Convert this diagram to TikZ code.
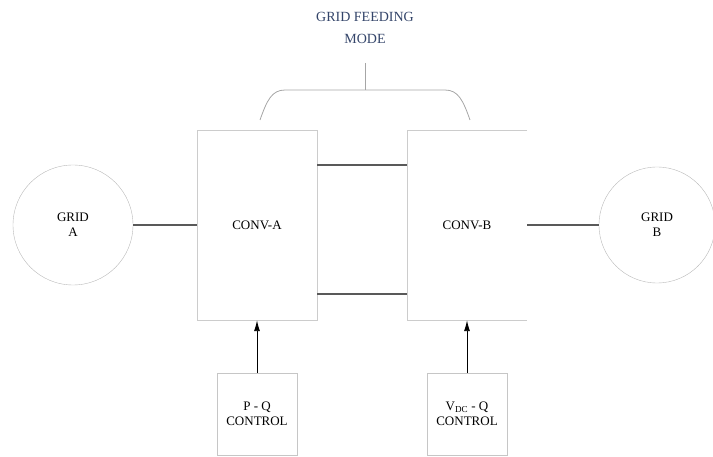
\documentclass[tikz,border=0pt]{standalone}
\usepackage{fontspec}
\setmainfont{Liberation Serif}
\usepackage{xcolor}
\usepackage{tikz}
\usetikzlibrary{calc,arrows.meta}
\definecolor{modeblue}{HTML}{34456A}

\begin{document}
\begin{tikzpicture}[x=1pt,y=-1pt,
    every node/.style={align=center,font=\fontsize{13}{15}\selectfont},
    conv/.style={minimum width=120pt,minimum height=190pt,inner sep=0pt},
    ctrl/.style={draw=gray!45,minimum width=80pt,minimum height=82pt,inner sep=0pt},
    grid/.style={circle,draw=gray!55,minimum size=120pt,inner sep=0pt},
    link/.style={draw=black!65,line width=1.4pt},
    feed/.style={-{Latex[length=11pt,width=6pt]},line width=0.9pt}]
  \useasboundingbox (0,0) rectangle (713,457);
  \node[text=modeblue,font=\fontsize{14}{22}\selectfont] (mode) at (365,28) {GRID FEEDING\\MODE};
  \node[conv,draw=gray!40] (conva) at (257,225) {CONV-A};
  \node[conv] (convb) at (467,225) {CONV-B};
  \draw[gray!40] (convb.north east) -- (convb.north west) -- (convb.south west) -- (convb.south east);
  \node[grid] (grida) at (73,225) {GRID\\A};
  \node[grid,minimum size=116pt] (gridb) at (657,225) {GRID\\B};
  \node[ctrl] (pq) at (257,414) {P - Q\\CONTROL};
  \node[ctrl] (vq) at (467,414) {V\textsubscript{DC} - Q\\CONTROL};
  % brace over both converters
  \coordinate (stem) at (365,63);
  \draw[gray!70,line width=0.8pt] (260,120) .. controls (267,100) and (272,90) .. (285,90) -- (445,90)
      .. controls (458,90) and (463,100) .. (470,120);
  \draw[gray!70,line width=0.8pt] (stem) -- (365,90);
  \draw[link] (grida.east) -- (conva.west);
  \draw[link] (convb.east) -- (gridb.west);
  \draw[link] ($(conva.north east)!0.184!(conva.south east)$) -- ($(convb.north west)!0.184!(convb.south west)$);
  \draw[link] ($(conva.north east)!0.863!(conva.south east)$) -- ($(convb.north west)!0.863!(convb.south west)$);
  \draw[feed] (pq.north) -- (conva.south);
  \draw[feed] (vq.north) -- (convb.south);
\end{tikzpicture}
\end{document}
